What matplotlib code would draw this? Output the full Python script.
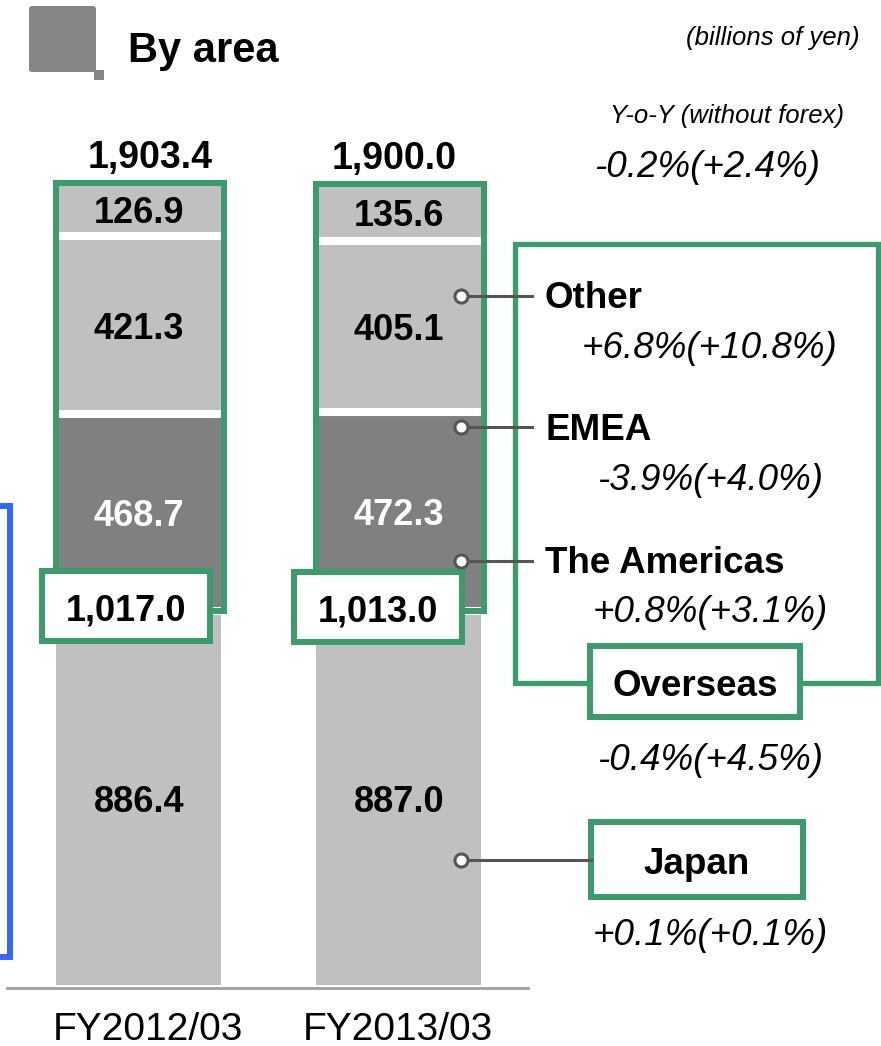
import numpy as np
import matplotlib.pyplot as plt
from matplotlib.patches import Rectangle, FancyBboxPatch

plt.rcParams['font.family'] = ['Liberation Sans', 'DejaVu Sans']

# values, billions of yen
years = ['FY2012/03', 'FY2013/03']
japan = [886.4, 887.0]
americas = [468.7, 472.3]
emea = [421.3, 405.1]
other = [126.9, 135.6]
overseas = [1017.0, 1013.0]
totals = [1903.4, 1900.0]

# y-o-y growth (without forex)
yoy_total = '-0.2%(+2.4%)'
yoy_other = '+6.8%(+10.8%)'
yoy_emea = '-3.9%(+4.0%)'
yoy_americas = '+0.8%(+3.1%)'
yoy_overseas = '-0.4%(+4.5%)'
yoy_japan = '+0.1%(+0.1%)'

LIGHT = '#c0c0c0'
DARK = '#808080'
GREEN = '#3a9b6b'
BLUE = '#3366ff'
LINE = '#555555'

W, H = 881, 1046
BASE = 985       # pixel row of the zero line
SCALE = 0.4215   # pixels per billion yen

fig = plt.figure(figsize=(W / 100, H / 100), dpi=100)

# bars axes: x in pixels, y in billions of yen
ax = fig.add_axes([0, 0, 1, 1])
ax.set_xlim(0, W)
ax.set_ylim((BASE - H) / SCALE, BASE / SCALE)
ax.axis('off')

xs = np.array([138, 398])
bw = 165
bottom = np.zeros(2)
segments = [(japan, LIGHT, 'black'), (americas, DARK, 'white'),
            (emea, LIGHT, 'black'), (other, LIGHT, 'black')]
for k, (vals, col, tcol) in enumerate(segments):
    vals = np.array(vals)
    ax.bar(xs, vals, bw, bottom=bottom, color=col, lw=0, zorder=1)
    if k > 0:
        for x, b in zip(xs, bottom):
            ax.hlines(b, x - bw / 2, x + bw / 2, color='white', lw=5.8, zorder=2)
    for x, b, v in zip(xs, bottom, vals):
        ax.text(x + 1, b + v / 2, f'{v:.1f}', ha='center', va='center_baseline',
                fontsize=26, fontweight='bold', color=tcol, zorder=3)
    bottom = bottom + vals

# green frame around overseas part
for x, j, top in zip(xs, japan, bottom):
    ax.add_patch(Rectangle((x - bw / 2, j), bw + 3, top - j, fill=False,
                           ec=GREEN, lw=4.3, zorder=4))

# totals above bars
for x, t, dx in zip(xs, totals, [12, -4]):
    ax.annotate(f'{t:,.1f}', (x, t), xytext=(dx * 0.72, 21), textcoords='offset points',
                ha='center', va='center_baseline', fontsize=27, fontweight='bold')

# overlay in pixel coordinates for the annotations
ov = fig.add_axes([0, 0, 1, 1])
ov.set_xlim(0, W)
ov.set_ylim(H, 0)
ov.axis('off')
ov.patch.set_alpha(0)

# header
ov.add_patch(FancyBboxPatch((29, 6), 67, 66, boxstyle='round,pad=0,rounding_size=3',
                            fc='#858585', ec='none'))
ov.add_patch(Rectangle((94, 70), 10, 10, fc='#858585', ec='none'))
ov.text(128, 62, 'By area', fontsize=30, fontweight='bold', va='baseline')
ov.text(860, 45, '(billions of yen)', fontsize=18.5, style='italic', ha='right', va='baseline')
ov.text(727, 123, 'Y-o-Y (without forex)', fontsize=18.5, style='italic', ha='center', va='baseline')
ov.text(707, 177, yoy_total, fontsize=26.5, style='italic', ha='center', va='baseline')

# overseas subtotal boxes
for (bx, by), txt in zip([(42, 571), (294, 572)], overseas):
    ov.add_patch(Rectangle((bx, by), 168, 70, fc='white', ec=GREEN, lw=4.3, zorder=5))
    ov.text(bx + 84, by + 36, f'{txt:,.1f}', ha='center', va='center_baseline',
            fontsize=26, fontweight='bold', zorder=6)

# right legend panel
ov.add_patch(Rectangle((514.5, 243.5), 363, 439, fill=False, ec=GREEN, lw=3.8))
ov.add_patch(Rectangle((590, 646), 210, 71, fc='white', ec=GREEN, lw=4.3, zorder=5))
ov.text(695, 683, 'Overseas', ha='center', va='center_baseline', fontsize=26.5,
        fontweight='bold', zorder=6)
ov.add_patch(Rectangle((591, 822), 212, 75, fc='white', ec=GREEN, lw=4.3, zorder=5))
ov.text(697, 860, 'Japan', ha='center', va='center_baseline', fontsize=26.5,
        fontweight='bold', zorder=6)

for y, xe in [(296, 532), (427, 532), (561, 532), (860, 591)]:
    ov.plot([461, xe], [y, y], color=LINE, lw=2.2, zorder=6)
    ov.plot(461, y, 'o', ms=9.4, mfc='white', mec=LINE, mew=2.2, zorder=7)

for y, name in [(308, 'Other'), (440, 'EMEA'), (573, 'The Americas')]:
    ov.text(545, y, name, fontsize=26.5, fontweight='bold', va='baseline')

for y, txt in [(358, yoy_other), (490, yoy_emea), (622, yoy_americas),
               (770, yoy_overseas), (945, yoy_japan)]:
    ov.text(710, y, txt, fontsize=26.5, style='italic', ha='center', va='baseline')

# blue bracket on the left edge
ov.plot([0, 10, 10, 0], [506, 506, 957, 957], color=BLUE, lw=4.3, solid_joinstyle='miter')

# baseline and category labels
ov.plot([7, 528], [988, 988], color='#a0a0a0', lw=2)
for x, lab in zip([148, 398], years):
    ov.text(x, 1040, lab, fontsize=28, ha='center', va='baseline')

fig.savefig('out.png', dpi=100)
